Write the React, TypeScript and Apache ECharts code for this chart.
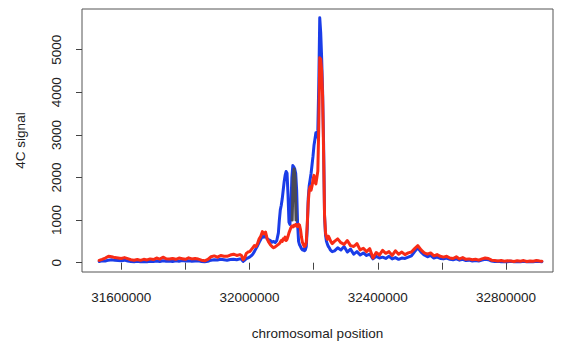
import React, { useEffect, useRef } from "react";
import * as echarts from "echarts";

// chromosomal positions (kb)
const positionsKb = [
  31531, 31540, 31550, 31560, 31570, 31580, 31590, 31600, 31610, 31620,
  31630, 31640, 31650, 31660, 31670, 31680, 31690, 31700, 31710, 31720,
  31730, 31740, 31750, 31760, 31770, 31780, 31790, 31800, 31810, 31820,
  31830, 31840, 31850, 31860, 31870, 31880, 31890, 31900, 31910, 31920,
  31930, 31940, 31950, 31960, 31970,
  31975, 31980, 31985, 31990, 31995, 32000, 32005, 32010, 32015, 32020,
  32025, 32030, 32035, 32040, 32045, 32050, 32055, 32060, 32065, 32070,
  32075, 32080, 32085, 32090,
  32093, 32096, 32099, 32102, 32105, 32108, 32111, 32114, 32117, 32120,
  32123, 32126, 32129, 32132, 32135, 32138, 32141, 32144, 32147, 32150,
  32153, 32156, 32159, 32162, 32165, 32168, 32171, 32174, 32177, 32180,
  32183, 32186, 32189, 32192, 32195, 32198, 32201, 32204, 32207, 32210,
  32213, 32216, 32219, 32222, 32225, 32228, 32231, 32234, 32237, 32240,
  32243, 32246, 32249, 32252, 32255, 32258,
  32265, 32275, 32285, 32295, 32305, 32315, 32325, 32335, 32345, 32355,
  32365, 32375, 32385, 32395, 32405, 32415, 32425, 32435, 32445, 32455,
  32465, 32475, 32485, 32495, 32505, 32515, 32525, 32535, 32545, 32555,
  32565, 32575, 32585, 32595, 32605, 32615, 32625, 32635, 32645, 32655,
  32665, 32675, 32685, 32695, 32705, 32715, 32725, 32735, 32745, 32755,
  32765, 32775, 32785, 32795, 32805, 32815, 32825, 32835, 32845, 32855,
  32865, 32875, 32885, 32895, 32905, 32912,
];

const blueSignal = [
  30, 45, 40, 60, 70, 55, 50, 45, 60, 40,
  30, 25, 35, 20, 30, 25, 35, 30, 40, 30,
  45, 35, 40, 30, 45, 35, 50, 40, 45, 35,
  40, 45, 30, 25, 35, 60, 70, 65, 80, 70,
  60, 75, 80, 70, 90,
  80, 30, 60, 100, 110, 130, 160, 200, 260, 330,
  400, 480, 550, 620, 600, 650, 560, 540, 520, 480,
  500, 470, 520, 700,
  1000, 1240, 1350, 1500, 1700, 1900, 2050, 2140, 2100, 1600,
  950, 900, 1300, 2000, 2280, 2250, 2200, 2100, 1700, 900,
  500, 420, 380, 330, 300, 320, 280, 300, 380, 800,
  1500, 1800, 1950, 2100, 2300, 2500, 2750, 2900, 3050, 2950,
  3100, 4200, 5750, 5400, 4800, 4000, 2800, 1100, 650, 500,
  430, 380, 350, 300, 280, 260,
  280, 350, 300, 380, 250, 320, 200, 260, 180, 230,
  170, 200, 90, 150, 110, 130, 100, 150, 90, 120,
  80, 110, 100, 130, 160, 260, 350, 250, 180, 140,
  170, 110, 130, 100, 90, 110, 80, 70, 90, 60,
  80, 50, 60, 40, 50, 40, 60, 80, 70, 40,
  30, 35, 25, 30, 25, 35, 20, 30, 25, 35,
  20, 30, 25, 35, 30, 25,
];

const redSignal = [
  55, 80, 110, 150, 140, 120, 110, 100, 120, 95,
  70, 60, 75, 55, 80, 65, 90, 75, 110, 85,
  130, 90, 85, 100, 80, 110, 95, 80, 115, 90,
  100, 85, 60, 45, 80, 140, 160, 130, 170, 150,
  150, 180, 200, 170, 190,
  170, 70, 120, 220, 250, 260, 300, 350, 400, 380,
  450, 560, 620, 730, 680, 720, 560, 480, 420, 380,
  350, 370, 400, 430,
  450, 480, 520, 500, 560, 540, 600, 520, 550, 620,
  700, 760, 820, 860, 840, 880, 860, 900, 880, 850,
  900, 880, 780, 600, 480, 420, 380, 400, 480, 900,
  1400, 1700, 1780, 1700, 1800, 1950, 2050, 1900, 1850, 2000,
  2150, 3200, 4810, 4780, 4500, 3900, 2600, 1100, 700, 600,
  550, 620, 580, 520, 480, 450,
  500, 560, 470, 430, 520, 400, 380, 450, 300, 340,
  260, 330, 110, 240, 180, 290, 220, 260, 170, 280,
  200, 250, 190, 230, 250, 330, 400, 300, 230, 200,
  230, 160, 190, 150, 130, 150, 110, 100, 140, 90,
  120, 80, 90, 70, 80, 60, 90, 110, 100, 60,
  50, 40, 50, 35, 45, 40, 30, 45, 35, 50,
  30, 40, 35, 50, 40, 35,
];

// dark overlap visible inside the second blue spike
const grayPositionsKb = [32133, 32136, 32139, 32142, 32145];
const graySignal = [1000, 2000, 2200, 2000, 1000];

const xTicks = [31600000, 31800000, 32000000, 32200000, 32400000, 32600000, 32800000];
const xTickLabels = [31600000, 32000000, 32400000, 32800000];
const yTicks = [0, 1000, 2000, 3000, 4000, 5000];

const FONT = "'Liberation Sans', Arial, Helvetica, sans-serif";

export default function App() {
  const ref = useRef<HTMLDivElement>(null);
  useEffect(() => {
    if (!ref.current) return;
    const chart = echarts.init(ref.current, undefined, { renderer: "svg" });
    const toPairs = (pos: number[], vals: number[]) =>
      pos.map((p, i) => [p * 1000, vals[i]]);
    const textStyle = { fontFamily: FONT, fontSize: 13.5, color: "#222" };
    chart.setOption({
      animation: false,
      backgroundColor: "#ffffff",
      grid: {
        left: 82,
        right: 15,
        top: 9,
        bottom: 74,
        show: true,
        borderColor: "#555",
        borderWidth: 1,
        backgroundColor: "transparent",
        outerBoundsMode: "none",
      },
      xAxis: {
        type: "value",
        min: 31477400,
        max: 32946600,
        name: "chromosomal position",
        nameLocation: "middle",
        nameGap: 54,
        nameTextStyle: textStyle,
        axisLine: { show: false },
        splitLine: { show: false },
        axisTick: {
          show: true,
          length: 7,
          customValues: xTicks,
          lineStyle: { color: "#444", width: 1 },
        },
        axisLabel: {
          customValues: xTickLabels,
          formatter: (v: number) => String(v),
          margin: 18,
          ...textStyle,
        },
      },
      yAxis: {
        type: "value",
        min: -218,
        max: 5955,
        name: "4C signal",
        nameLocation: "middle",
        nameGap: 55,
        nameRotate: 90,
        nameTextStyle: textStyle,
        axisLine: { show: false },
        splitLine: { show: false },
        axisTick: {
          show: true,
          length: 6,
          customValues: yTicks,
          lineStyle: { color: "#444", width: 1 },
        },
        axisLabel: {
          customValues: yTicks,
          formatter: (v: number) => String(v),
          rotate: 90,
          margin: 19,
          ...textStyle,
        },
      },
      series: [
        {
          type: "line",
          name: "blue",
          data: toPairs(positionsKb, blueSignal),
          showSymbol: false,
          lineStyle: { color: "#1b3de8", width: 3, join: "round", cap: "round" },
          z: 2,
        },
        {
          type: "line",
          name: "gray",
          data: toPairs(grayPositionsKb, graySignal),
          showSymbol: false,
          lineStyle: { color: "#4a4a55", width: 3, join: "round", cap: "round" },
          z: 3,
        },
        {
          type: "line",
          name: "red",
          data: toPairs(positionsKb, redSignal),
          showSymbol: false,
          lineStyle: { color: "#f82b16", width: 3, join: "round", cap: "round" },
          z: 4,
        },
      ],
    });
    return () => chart.dispose();
  }, []);
  return (
    <div
      ref={ref}
      style={{ position: "absolute", left: 0, top: 0, width: 568, height: 346, background: "#fff" }}
    />
  );
}
